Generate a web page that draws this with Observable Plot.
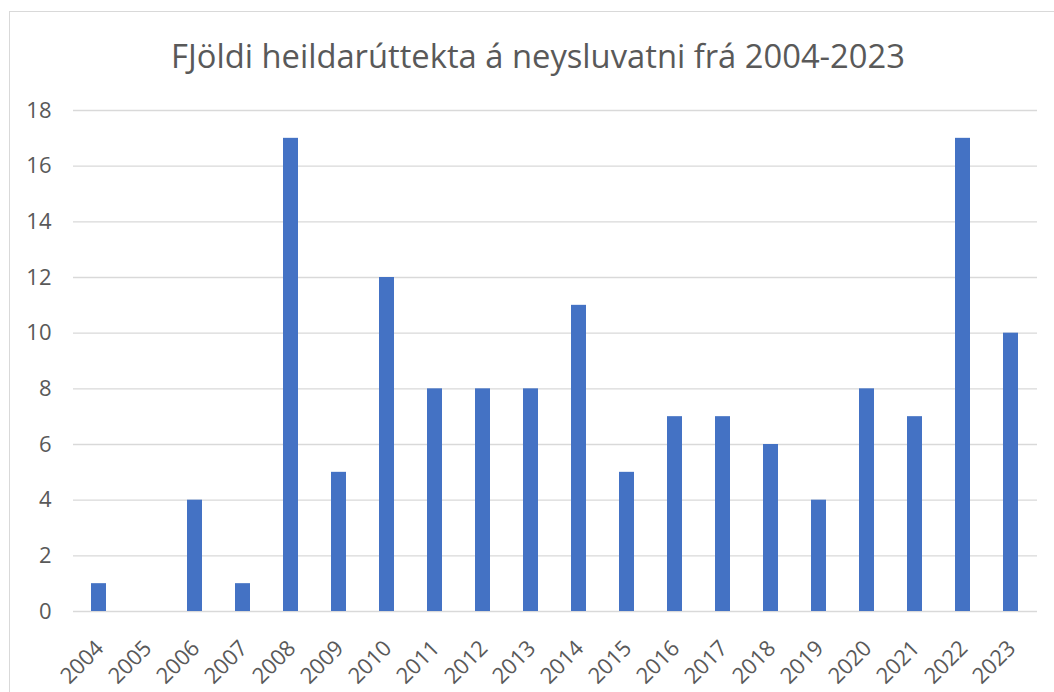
<!DOCTYPE html>
<html>
<head>
<meta charset="utf-8">
<script src="https://cdn.jsdelivr.net/npm/d3@7"></script>
<script src="https://cdn.jsdelivr.net/npm/@observablehq/plot@0.6"></script>
<style>
  html, body { margin: 0; padding: 0; background: #fff; overflow: hidden; }
  #frame { position: absolute; left: 9px; top: 11px; width: 1200px; height: 900px; border: 1px solid #d9d9d9; box-sizing: border-box; }
  #title { position: absolute; left: 0; top: 0; width: 1076px; height: 80px; line-height: 112px; text-align: center; font-family: "Open Sans", sans-serif; color: #595959; white-space: nowrap; }
  #chart { position: absolute; left: 0; top: 80px; }
</style>
</head>
<body>
<div id="frame"></div>
<div id="title">FJöldi heildarúttekta á neysluvatni frá 2004-2023</div>
<div id="chart"></div>
<script>
const years = ["2004","2005","2006","2007","2008","2009","2010","2011","2012","2013","2014","2015","2016","2017","2018","2019","2020","2021","2022","2023"];
const counts = [1,0,4,1,17,5,12,8,8,8,11,5,7,7,6,4,8,7,17,10];
const yTicks = [0,2,4,6,8,10,12,14,16,18];

const data = years.map((y, i) => ({year: y, count: counts[i]}));

// fit the title to the reference width
const titleEl = document.getElementById("title");
const ctx = document.createElement("canvas").getContext("2d");
ctx.font = "100px 'Open Sans'";
const w100 = ctx.measureText(titleEl.textContent).width;
titleEl.style.fontSize = (100 * 734 / w100).toFixed(2) + "px";

const chart = Plot.plot({
  width: 1054,
  height: 612,
  marginLeft: 73,
  marginRight: 17,
  marginTop: 30,
  marginBottom: 81,
  style: {fontFamily: "'Open Sans', sans-serif", fontSize: "21px", color: "#595959", background: "transparent", overflow: "visible"},
  x: {domain: years, paddingInner: 0.68, paddingOuter: 0.34, label: null, axis: null},
  y: {domain: [0, 18], ticks: yTicks, label: null, axis: null},
  marks: [
    Plot.ruleY(yTicks, {stroke: "#d9d9d9", strokeWidth: 1.3}),
    Plot.barY(data, {x: "year", y: "count", fill: "#4472C4"}),
    Plot.text(yTicks, {y: d => d, frameAnchor: "left", dx: -22, textAnchor: "end", fill: "#595959", fontSize: 22}),
    Plot.text(years, {x: d => d, frameAnchor: "bottom", dx: 1, dy: 33, rotate: -45, textAnchor: "end", lineAnchor: "middle", fill: "#595959", fontSize: 22})
  ]
});
document.getElementById("chart").appendChild(chart);
</script>
</body>
</html>
